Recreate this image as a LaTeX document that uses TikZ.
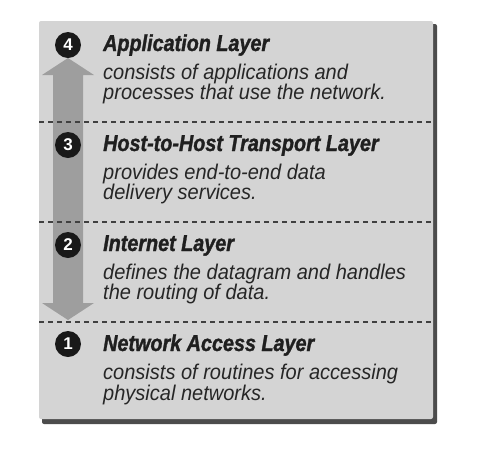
\documentclass[tikz,border=0pt]{standalone}
\usepackage{fontspec}
\setmainfont{Liberation Sans}
\newfontfamily\titlefont[FakeStretch=0.86,BoldItalicFeatures={FakeBold=1.3}]{Liberation Sans}
\newfontfamily\bodyfont[FakeStretch=0.94]{Liberation Sans}
\begin{document}
\begin{tikzpicture}[x=1pt,y=-1pt,
  titletext/.style={anchor=base west,inner sep=0pt,text=black!88,font=\titlefont\bfseries\itshape\fontsize{23}{22}\selectfont},
  bodytext/.style={anchor=base west,inner sep=0pt,text=black!85,font=\bodyfont\itshape\fontsize{21.3}{20}\selectfont},
  numdot/.style={circle,fill=black!90,minimum size=26pt,inner sep=0pt,text=white,font=\bfseries\fontsize{17}{17}\selectfont},
  sepline/.style={draw=black!75,line width=1.4pt,dash pattern=on 5pt off 4pt},
  arrowfill/.style={fill=black!38}]
\useasboundingbox (0,0) rectangle (480,451);
\fill[white] (0,0) rectangle (480,451);
% shadow and box
\fill[black!70,rounded corners=2pt] (42,24) rectangle (437,424);
\fill[black!17,rounded corners=2pt] (39,21) rectangle (433,419);
% double arrow
\fill[arrowfill] (68,58) -- (94,75) -- (83,75) -- (83,303) -- (94,303) -- (68,320)
  -- (42,303) -- (53,303) -- (53,75) -- (42,75) -- cycle;
% separators
\coordinate (s1l) at (39,122); \coordinate (s1r) at (433,122);
\coordinate (s2l) at (39,222); \coordinate (s2r) at (433,222);
\coordinate (s3l) at (39,322); \coordinate (s3r) at (433,322);
\draw[sepline] (s1l) -- (s1r);
\draw[sepline] (s2l) -- (s2r);
\draw[sepline] (s3l) -- (s3r);
% numbers
\node[numdot] (n4) at (68,45) {4};
\node[numdot] (n3) at (68,145) {3};
\node[numdot] (n2) at (68,245) {2};
\node[numdot] (n1) at (68,344) {1};
% texts
\node[titletext] (t4) at (103,51) {Application Layer};
\node[bodytext] (b4a) at (103,79) {consists of applications and};
\node[bodytext] (b4b) at (103,99) {processes that use the network.};
\node[titletext] (t3) at (103,151) {Host-to-Host Transport Layer};
\node[bodytext] (b3a) at (103,179) {provides end-to-end data};
\node[bodytext] (b3b) at (103,199) {delivery services.};
\node[titletext] (t2) at (103,251) {Internet Layer};
\node[bodytext] (b2a) at (103,279) {defines the datagram and handles};
\node[bodytext] (b2b) at (103,299) {the routing of data.};
\node[titletext] (t1) at (103,351) {Network Access Layer};
\node[bodytext] (b1a) at (103,379) {consists of routines for accessing};
\node[bodytext] (b1b) at (103,400) {physical networks.};
\end{tikzpicture}
\end{document}
